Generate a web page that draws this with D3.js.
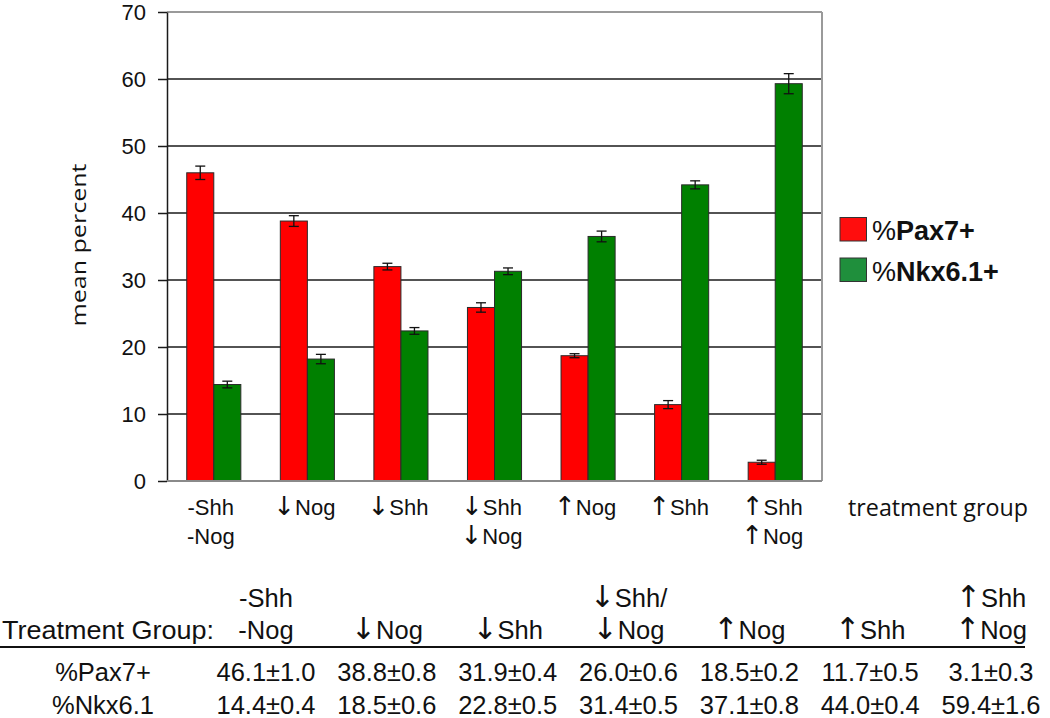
<!DOCTYPE html>
<html><head><meta charset="utf-8">
<script src="https://cdn.jsdelivr.net/npm/d3@7"></script>
<style>body{margin:0;background:#fff} svg{display:block}</style>
</head><body><svg id="c" width="1050" height="718"></svg>
<script>
const categories = [["-Shh","-Nog"],["\u2193Nog"],["\u2193Shh"],["\u2193Shh","\u2193Nog"],["\u2191Nog"],["\u2191Shh"],["\u2191Shh","\u2191Nog"]];
const seriesNames = ["%Pax7+","%Nkx6.1+"];
const pax7 = [46.0, 38.8, 32.0, 25.9, 18.7, 11.4, 2.8];
const nkx61 = [14.4, 18.2, 22.4, 31.3, 36.5, 44.2, 59.3];
const pax7Err = [1.0, 0.8, 0.5, 0.7, 0.3, 0.6, 0.3];
const nkx61Err = [0.5, 0.7, 0.5, 0.5, 0.8, 0.6, 1.5];
const yTicks = [0,10,20,30,40,50,60,70];
const tableHeaders = [["-Shh","-Nog"],["","\u2193Nog"],["","\u2193Shh"],["\u2193Shh/","\u2193Nog"],["","\u2191Nog"],["","\u2191Shh"],["\u2191Shh","\u2191Nog"]];
const tableRowLabels = ["%Pax7+","%Nkx6.1"];
const tablePax7 = [46.1, 38.8, 31.9, 26.0, 18.5, 11.7, 3.1];
const tablePax7SE = [1.0, 0.8, 0.4, 0.6, 0.2, 0.5, 0.3];
const tableNkx = [14.4, 18.5, 22.8, 31.4, 37.1, 44.0, 59.4];
const tableNkxSE = [0.4, 0.6, 0.5, 0.5, 0.8, 0.4, 1.6];

const ARIAL = "'Liberation Sans', Arial, sans-serif";
const OPEN = "'Open Sans', 'DejaVu Sans', sans-serif";
const ARROWF = "'DejaVu Sans', sans-serif";
const colors = ["#ff0000", "#008000"];
const legendColors = ["#ff0d0d", "#1f8f3c"];

// write a string into a text element, rendering arrows with a font that has them
function writeText(textSel, str) {
  const parts = str.split(/([\u2191\u2193])/).filter(p => p.length);
  parts.forEach(p => {
    const ts = textSel.append("tspan").text(p);
    if (p === "\u2191" || p === "\u2193") ts.attr("font-family", ARROWF).attr("font-size", "1.18em").attr("fill", "#111");
  });
  return textSel;
}

const svg = d3.select("#c");
const L = 167, R = 822, T = 12, B = 481;
const x = d3.scaleBand().domain(d3.range(categories.length)).range([L, R]);
const xs = d3.scaleBand().domain([0,1]).range([0, x.bandwidth()]).paddingInner(0).paddingOuter(0.73);
const y = d3.scaleLinear().domain([0, 70]).range([B, T]);

// gridlines
svg.append("g").selectAll("line").data(yTicks.filter(v => v > 0 && v < 70)).join("line")
  .attr("x1", L).attr("x2", R).attr("y1", d => y(d)).attr("y2", d => y(d))
  .attr("stroke", "#1a1a1a").attr("stroke-width", 1.5);
// top and right border
svg.append("line").attr("x1", L).attr("x2", R).attr("y1", y(70)).attr("y2", y(70)).attr("stroke", "#9a9a9a").attr("stroke-width", 2);
svg.append("line").attr("x1", R).attr("x2", R).attr("y1", T).attr("y2", B).attr("stroke", "#9a9a9a").attr("stroke-width", 2);

// y axis
const ya = svg.append("g").attr("transform", `translate(${L},0)`)
  .call(d3.axisLeft(y).tickValues(yTicks).tickSize(9).tickSizeOuter(0).tickPadding(12));
ya.select(".domain").attr("stroke", "#1a1a1a").attr("stroke-width", 1.5);
ya.selectAll(".tick line").attr("stroke", "#1a1a1a").attr("stroke-width", 1.5);
ya.selectAll(".tick text").attr("font-family", ARIAL).attr("font-size", 22).attr("fill", "#111");

// bars
const series = [pax7, nkx61];
const errs = [pax7Err, nkx61Err];
series.forEach((vals, s) => {
  const g = svg.append("g");
  g.selectAll("rect").data(vals).join("rect")
    .attr("x", (d, i) => x(i) + xs(s)).attr("width", xs.bandwidth())
    .attr("y", d => y(d)).attr("height", d => B - y(d))
    .attr("fill", colors[s]).attr("stroke", "#2a2a2a").attr("stroke-width", 1);
});
// bottom axis line
svg.append("line").attr("x1", L).attr("x2", R).attr("y1", B).attr("y2", B).attr("stroke", "#8a8a8a").attr("stroke-width", 2);

// error bars
series.forEach((vals, s) => {
  const g = svg.append("g").attr("stroke", "#111").attr("stroke-width", 1.3);
  vals.forEach((v, i) => {
    const cx = x(i) + xs(s) + xs.bandwidth() / 2;
    const e = errs[s][i];
    g.append("line").attr("x1", cx).attr("x2", cx).attr("y1", y(v + e)).attr("y2", y(v - e));
    g.append("line").attr("x1", cx - 5).attr("x2", cx + 5).attr("y1", y(v + e)).attr("y2", y(v + e));
    g.append("line").attr("x1", cx - 5).attr("x2", cx + 5).attr("y1", y(v - e)).attr("y2", y(v - e));
  });
});

// x labels
const xl = svg.append("g").attr("font-family", ARIAL).attr("font-size", 22).attr("fill", "#111").attr("text-anchor", "middle");
categories.forEach((lines, i) => {
  lines.forEach((t, k) => {
    writeText(xl.append("text").attr("x", x(i) + x.bandwidth() / 2 - 3).attr("y", 515 + k * 29), t);
  });
});
svg.append("text").attr("x", 848).attr("y", 516).attr("font-family", OPEN).attr("font-size", 23)
  .attr("fill", "#111").attr("textLength", 180).attr("lengthAdjust", "spacingAndGlyphs").text("treatment group");

// y title
svg.append("text").attr("transform", "translate(86,245) rotate(-90)").attr("text-anchor", "middle")
  .attr("font-family", OPEN).attr("font-size", 20).attr("fill", "#111")
  .attr("textLength", 163).attr("lengthAdjust", "spacingAndGlyphs").text("mean percent");

// legend
const leg = svg.append("g");
seriesNames.forEach((n, s) => {
  const yy = 217.5 + s * 40.5;
  leg.append("rect").attr("x", 840).attr("y", yy).attr("width", 26.5).attr("height", 23.5)
    .attr("fill", legendColors[s]).attr("stroke", "#333").attr("stroke-width", 1);
  const t = leg.append("text").attr("x", 872).attr("y", yy + 22.5).attr("font-family", ARIAL).attr("font-size", 27).attr("fill", "#111");
  t.append("tspan").text(n.slice(0, 1));
  t.append("tspan").attr("font-weight", "bold").text(n.slice(1));
});

// table
const cx = d3.scalePoint().domain(d3.range(tableHeaders.length)).range([266, 991]);
const tb = svg.append("g").attr("font-family", ARIAL).attr("font-size", 25.5).attr("fill", "#111");
tb.append("text").attr("x", 2).attr("y", 639).attr("textLength", 212).attr("lengthAdjust", "spacingAndGlyphs").text("Treatment Group:");
tableHeaders.forEach((h, i) => {
  h.forEach((t, k) => {
    if (t) writeText(tb.append("text").attr("x", cx(i)).attr("y", 607 + k * 32).attr("text-anchor", "middle"), t);
  });
});
svg.append("line").attr("x1", 0).attr("x2", 1025).attr("y1", 647).attr("y2", 647).attr("stroke", "#111").attr("stroke-width", 2);
const rows = [[tablePax7, tablePax7SE], [tableNkx, tableNkxSE]];
rows.forEach((r, j) => {
  const yy = 681 + j * 33;
  tb.append("text").attr("x", 103).attr("y", yy).attr("text-anchor", "middle").text(tableRowLabels[j]);
  r[0].forEach((m, i) => {
    tb.append("text").attr("x", cx(i)).attr("y", yy).attr("text-anchor", "middle")
      .text(m.toFixed(1) + "\u00b1" + r[1][i].toFixed(1));
  });
});
</script></body></html>
